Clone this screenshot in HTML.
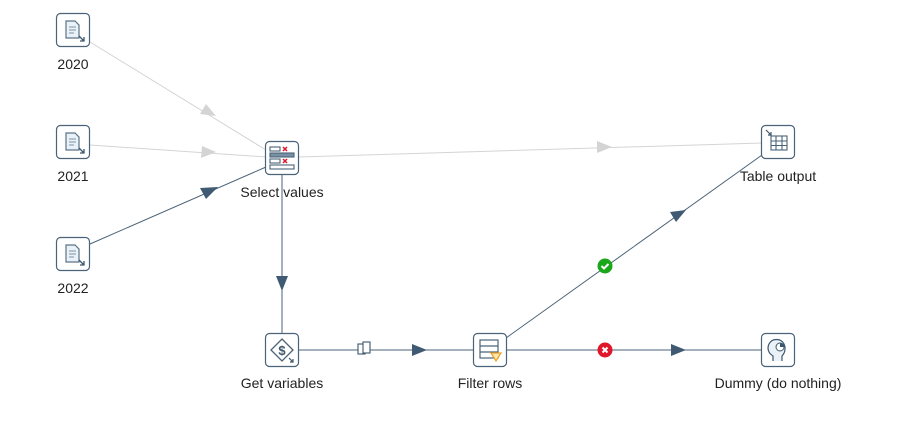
<!DOCTYPE html>
<html><head><meta charset="utf-8"><style>
body{margin:0;background:#fff;}
svg{display:block;font-family:"Liberation Sans","DejaVu Sans",sans-serif;}
</style></head><body>
<svg width="909" height="433" viewBox="0 0 909 433" xmlns="http://www.w3.org/2000/svg">
<defs>
<g id="box"><rect x="-16.5" y="-16.5" width="33" height="33" rx="4" fill="#fff" stroke="#4a6378" stroke-width="1.2"/></g>
<g id="doc">
<use href="#box"/>
<path d="M-7,-9 h9 l4,4 v13 h-13 z" fill="#eaf2f8" stroke="#5a7388" stroke-width="1.2"/>
<path d="M-4,-3 h7 M-4,0 h7 M-4,3 h5" stroke="#7a92a6" stroke-width="1"/>
<path d="M6,6 l5,5 M11,7 v4 h-4" stroke="#3d566b" stroke-width="1.3" fill="none"/>
</g>
</defs>
<!-- connectors -->
<g fill="none" stroke-width="1">
<line x1="90" y1="42" x2="266" y2="150" stroke="#d4d4d4"/>
<line x1="90" y1="145" x2="266" y2="157" stroke="#d4d4d4"/>
<line x1="298" y1="157" x2="762" y2="143" stroke="#d4d4d4"/>
<line x1="90" y1="244" x2="266" y2="167" stroke="#4a6378"/>
<line x1="282" y1="175" x2="282" y2="334" stroke="#4a6378"/>
<line x1="298" y1="350" x2="474" y2="350" stroke="#4a6378"/>
<line x1="506" y1="338" x2="762" y2="155" stroke="#4a6378"/>
<line x1="506" y1="350" x2="762" y2="350" stroke="#4a6378"/>
</g>
<g>
<polygon points="216,116 200,114 206,104" fill="#d4d4d4"/>
<polygon points="216,152 201,158 202,146" fill="#d4d4d4"/>
<polygon points="612,147 597,153 597,141" fill="#d4d4d4"/>
<polygon points="218,187 206,199 200,188" fill="#3f5a72"/>
<polygon points="282,291 276,276 288,276" fill="#3f5a72"/>
<polygon points="427,350 412,356 412,344" fill="#3f5a72"/>
<polygon points="686,210 676,222 670,212" fill="#3f5a72"/>
<polygon points="686,350 671,356 671,344" fill="#3f5a72"/>
</g>
<!-- copy icon -->
<g stroke="#3d566b" stroke-width="1.1" fill="#fff">
<rect x="358" y="344" width="7" height="10"/>
<rect x="363" y="342" width="7" height="11"/>
</g>
<!-- ok / error -->
<circle cx="605" cy="266" r="7.5" fill="#1aa71a"/>
<path d="M601.5,266 l2.5,2.5 l4.5,-4.5" stroke="#fff" stroke-width="2" fill="none"/>
<circle cx="605" cy="350" r="7.5" fill="#e0162b"/>
<path d="M602.5,347.5 l5,5 M607.5,347.5 l-5,5" stroke="#fff" stroke-width="2"/>
<!-- nodes -->
<use href="#doc" x="73" y="30"/>
<use href="#doc" x="73" y="142"/>
<use href="#doc" x="73" y="254"/>
<g transform="translate(282,158)">
<use href="#box"/>
<g fill="#fff" stroke="#4a6378" stroke-width="1.1">
<rect x="-12" y="-11" width="10" height="4"/><rect x="-12" y="-5" width="24" height="4" fill="#7890a4"/>
<rect x="-12" y="1" width="10" height="4"/><rect x="-12" y="7" width="24" height="4"/>
</g>
<path d="M1,-11 l4,4 M5,-11 l-4,4 M1,1 l4,4 M5,1 l-4,4" stroke="#e0162b" stroke-width="1.5"/>
</g>
<g transform="translate(282,350)">
<use href="#box"/>
<path d="M0,-11 l11,11 l-11,11 l-11,-11 z" fill="#fff" stroke="#4a6378" stroke-width="1.3"/>
<text x="0" y="5" font-size="13" font-weight="bold" fill="#3d566b" text-anchor="middle">$</text>
<path d="M7,8 l4,4 M11,9 v3 h-3" stroke="#3d566b" stroke-width="1.2" fill="none"/>
</g>
<g transform="translate(490,350)">
<use href="#box"/>
<g fill="#fff" stroke="#4a6378" stroke-width="1.2"><rect x="-10" y="-10" width="18" height="18"/><path d="M-10,-4 h18 M-10,2 h18"/></g>
<path d="M1,3 h10 l-5,8 z" fill="#fde7b0" stroke="#f0a020" stroke-width="1.2"/>
</g>
<g transform="translate(778,142)">
<use href="#box"/>
<g fill="#fff" stroke="#4a6378" stroke-width="1.1"><rect x="-7" y="-6" width="16" height="14"/><path d="M-7,-1 h16 M-7,3.5 h16 M-2,-6 v14 M4,-6 v14"/></g>
<path d="M-12,-12 l5,5 M-7,-10 v3 h-3" stroke="#3d566b" stroke-width="1.2" fill="none"/>
</g>
<g transform="translate(778,350)">
<use href="#box"/>
<path d="M-5,11 v-5 c-5,-3 -6,-8 -4,-12 c3,-6 12,-6 15,0 c2,4 1,9 -2,12 v5" fill="#eaf2f8" stroke="#3d566b" stroke-width="1.2"/>
<circle cx="2" cy="-3" r="4" fill="#fff" stroke="#3d566b"/>
<path d="M2,-3 v-4 a4,4 0 0 1 4,4 z" fill="#3d566b"/>
</g>
<!-- labels -->
<g font-size="14" fill="#222" text-anchor="middle">
<text x="73" y="69">2020</text>
<text x="73" y="181">2021</text>
<text x="73" y="293">2022</text>
<text x="282" y="197">Select values</text>
<text x="282" y="388">Get variables</text>
<text x="490" y="388">Filter rows</text>
<text x="778" y="181">Table output</text>
<text x="778" y="388">Dummy (do nothing)</text>
</g>
</svg>
</body></html>
